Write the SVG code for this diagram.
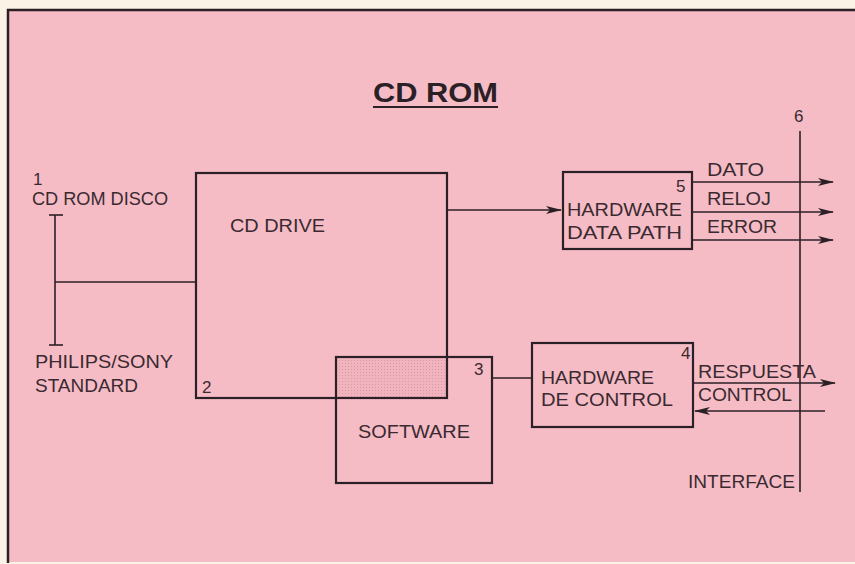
<svg xmlns="http://www.w3.org/2000/svg" width="855" height="564" viewBox="0 0 855 564">
<defs>
<style>
.ln{stroke:#2b2026;stroke-width:1.6;fill:none}
.bx{stroke:#2b2026;stroke-width:2.2;fill:none}
.t{font-family:"Liberation Sans",Arial,sans-serif;font-size:18px;fill:#3a2a30}
.n{font-family:"Liberation Sans",Arial,sans-serif;font-size:17px;fill:#3a2a30}
</style>
<marker id="ah" viewBox="0 0 16 8" refX="15" refY="4" markerWidth="16" markerHeight="8" markerUnits="userSpaceOnUse" orient="auto">
<path d="M0,0 L16,4 L0,8 L4,4 Z" fill="#2b2026"/>
</marker>
<pattern id="dots" width="3" height="3" patternUnits="userSpaceOnUse">
<rect width="3" height="3" fill="#f1b3bd"/>
<rect width="1" height="1" fill="#d89ca6"/>
</pattern>
</defs>
<rect width="855" height="564" fill="#fbf3e6"/>
<rect x="8" y="10" width="847" height="552" fill="#f5bcc6"/>
<path d="M8,563 L8,10 L855,10" stroke="#2b2026" stroke-width="2.5" fill="none"/>

<g id="title">
<text x="373" y="102" font-family="Liberation Sans,Arial,sans-serif" font-weight="bold" font-size="27" fill="#2b2026" textLength="125" lengthAdjust="spacingAndGlyphs">CD ROM</text>
<line x1="373" y1="107" x2="498" y2="107" stroke="#2b2026" stroke-width="2.2"/>
</g>

<g id="node1">
<text class="n" x="33" y="185">1</text>
<text class="t" x="32" y="205" textLength="136" lengthAdjust="spacingAndGlyphs">CD ROM DISCO</text>
<text class="t" x="35" y="368" textLength="138" lengthAdjust="spacingAndGlyphs">PHILIPS/SONY</text>
<text class="t" x="35" y="392" textLength="103" lengthAdjust="spacingAndGlyphs">STANDARD</text>
</g>

<g id="node2">
<rect x="336" y="357" width="111" height="41" fill="url(#dots)"/>
<rect class="bx" x="196" y="173" width="251" height="225"/>
<text class="t" x="230" y="232" textLength="95" lengthAdjust="spacingAndGlyphs">CD DRIVE</text>
<text class="n" x="202" y="393">2</text>
</g>

<g id="node3">
<rect class="bx" x="336" y="357" width="156" height="126"/>
<text class="n" x="474" y="375">3</text>
<text class="t" x="358" y="438" textLength="112" lengthAdjust="spacingAndGlyphs">SOFTWARE</text>
</g>

<g id="node5">
<rect class="bx" x="563" y="172" width="129" height="77"/>
<text class="n" x="676" y="192">5</text>
<text class="t" x="567" y="216" textLength="115" lengthAdjust="spacingAndGlyphs">HARDWARE</text>
<text class="t" x="567" y="239" textLength="115" lengthAdjust="spacingAndGlyphs">DATA PATH</text>
</g>

<g id="node4">
<rect class="bx" x="532" y="343" width="161" height="84"/>
<text class="n" x="681" y="359">4</text>
<text class="t" x="541" y="384" textLength="113" lengthAdjust="spacingAndGlyphs">HARDWARE</text>
<text class="t" x="541" y="406" textLength="132" lengthAdjust="spacingAndGlyphs">DE CONTROL</text>
</g>

<g id="node6">
<text class="n" x="794" y="122">6</text>
<text class="t" x="688" y="488" textLength="107" lengthAdjust="spacingAndGlyphs">INTERFACE</text>
</g>

<g id="connectors">
<line class="ln" x1="55" y1="215" x2="55" y2="345"/>
<line class="ln" x1="49" y1="215" x2="63" y2="215" stroke-width="2.2"/>
<line class="ln" x1="49" y1="345" x2="63" y2="345" stroke-width="2.2"/>
<line class="ln" x1="55" y1="282" x2="196" y2="282"/>
<line class="ln" x1="447" y1="210" x2="561" y2="210" marker-end="url(#ah)"/>
<line class="ln" x1="492" y1="378" x2="532" y2="378"/>
<line class="ln" x1="800" y1="131" x2="800" y2="492" stroke-width="2"/>
<line class="ln" x1="692" y1="182" x2="833" y2="182" marker-end="url(#ah)"/>
<line class="ln" x1="692" y1="212" x2="833" y2="212" marker-end="url(#ah)"/>
<line class="ln" x1="692" y1="240" x2="833" y2="240" marker-end="url(#ah)"/>
<line class="ln" x1="693" y1="383" x2="835" y2="383" marker-end="url(#ah)"/>
<line class="ln" x1="825" y1="411" x2="695" y2="411" marker-end="url(#ah)"/>
<text class="t" x="707" y="176" textLength="57" lengthAdjust="spacingAndGlyphs">DATO</text>
<text class="t" x="707" y="205" textLength="64" lengthAdjust="spacingAndGlyphs">RELOJ</text>
<text class="t" x="707" y="233" textLength="70" lengthAdjust="spacingAndGlyphs">ERROR</text>
<text class="t" x="698" y="378" textLength="118" lengthAdjust="spacingAndGlyphs">RESPUESTA</text>
<text class="t" x="698" y="401" textLength="94" lengthAdjust="spacingAndGlyphs">CONTROL</text>
</g>
</svg>
